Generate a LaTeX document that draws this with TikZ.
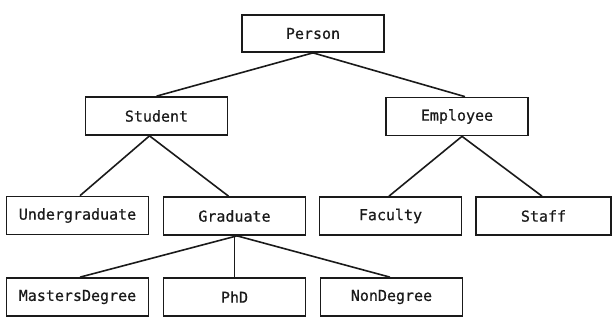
\documentclass[tikz,border=0pt]{standalone}
\usepackage{fontspec}
\newfontfamily\boxfont[FakeBold=0.6]{DejaVu Sans Mono}
\definecolor{ink}{HTML}{1A1A1A}
\begin{document}
\begin{tikzpicture}[x=1pt,y=-1pt,
  cls/.style={draw=ink, line width=1.7pt, minimum width=142pt, minimum height=38pt,
    inner sep=0pt, text=ink, font=\boxfont\fontsize{15}{16}\selectfont},
  link/.style={draw=ink, line width=1.6pt}]
\useasboundingbox (0,0) rectangle (614,325);

% class boxes
\node[cls, minimum height=37pt] (person) at (313,33.5) {Person};
\node[cls] (student)  at (156.5,116) {Student};
\node[cls] (employee) at (457,116.5) {Employee};
\node[cls] (under)    at (77.5,215.5) {Undergraduate};
\node[cls] (grad)     at (234.5,216) {Graduate};
\node[cls] (faculty)  at (390.5,216) {Faculty};
\node[cls, minimum width=135pt] (staff) at (543.5,216) {Staff};
\node[cls] (masters)  at (77.5,297) {MastersDegree};
\node[cls] (phd)      at (234.5,297) {PhD};
\node[cls] (nondeg)   at (391.5,297) {NonDegree};

% inheritance links
\draw[link] (person.south) -- (student.north);
\draw[link] (person.south) -- ([xshift=8pt]employee.north);
\draw[link] ([xshift=-7pt]student.south) -- ([xshift=2.5pt]under.north);
\draw[link] ([xshift=-7pt]student.south) -- ([xshift=-6pt]grad.north);
\draw[link] ([xshift=5pt]employee.south) -- ([xshift=-1.5pt]faculty.north);
\draw[link] ([xshift=5pt]employee.south) -- ([xshift=-1.5pt]staff.north);
\draw[link] ([xshift=2.5pt]grad.south) -- ([xshift=2.5pt]masters.north);
\draw[link] (grad.south) -- (phd.north);
\draw[link] ([xshift=2.5pt]grad.south) -- ([xshift=-1.5pt]nondeg.north);
\end{tikzpicture}
\end{document}
